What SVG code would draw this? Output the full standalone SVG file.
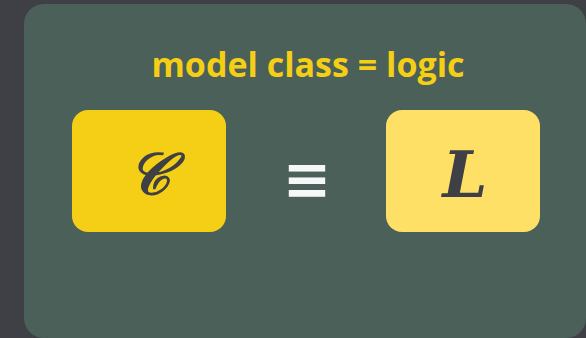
<svg xmlns="http://www.w3.org/2000/svg" width="586" height="338" viewBox="0 0 586 338">
<style>
.title{font-family:"Open Sans","Liberation Sans",sans-serif;font-weight:bold;font-size:34px;fill:#f5cf16}
.sym{font-family:"DejaVu Serif","Liberation Serif",serif;fill:#3e4045;font-weight:bold;font-style:italic}
.eq{font-family:"DejaVu Sans",sans-serif;font-weight:bold;font-size:58px;fill:#f5f7f8}
</style>
<rect width="586" height="338" fill="#3e4045"/>
<rect x="24" y="4" width="562" height="334" rx="20" fill="#4a6058"/>
<text class="title" x="308" y="77" text-anchor="middle">model class = logic</text>
<g id="nodeC">
<rect x="72" y="110" width="154" height="122" rx="16" fill="#f5cf16"/>
<text class="sym" x="149" y="194" font-size="58" text-anchor="middle">𝒞</text>
</g>
<g id="equiv">
<text class="eq" x="307" y="199" text-anchor="middle">≡</text>
</g>
<g id="nodeL">
<rect x="386" y="110" width="154" height="122" rx="16" fill="#ffe066"/>
<text class="sym" x="465" y="197" font-size="64" text-anchor="middle" font-family="Liberation Serif">L</text>
</g>
<g id="connectors"/>
</svg>
